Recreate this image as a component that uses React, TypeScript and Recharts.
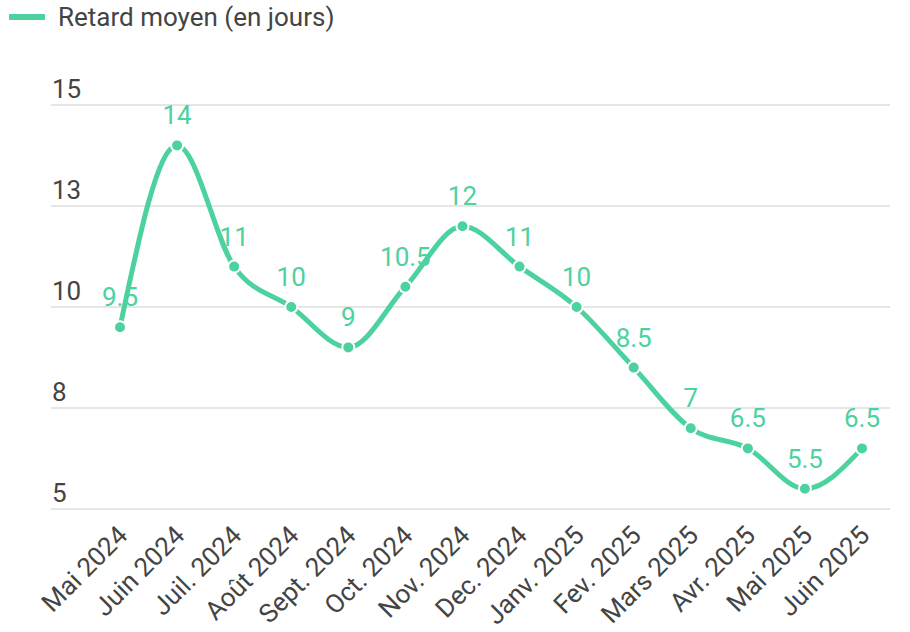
import React from "react";
import {
  LineChart,
  Line,
  XAxis,
  YAxis,
  CartesianGrid,
  LabelList,
} from "recharts";

const months = [
  "Mai 2024",
  "Juin 2024",
  "Juil. 2024",
  "Août 2024",
  "Sept. 2024",
  "Oct. 2024",
  "Nov. 2024",
  "Dec. 2024",
  "Janv. 2025",
  "Fev. 2025",
  "Mars 2025",
  "Avr. 2025",
  "Mai 2025",
  "Juin 2025",
];

const retard = [9.5, 14, 11, 10, 9, 10.5, 12, 11, 10, 8.5, 7, 6.5, 5.5, 6.5];

const yTicks = [5, 7.5, 10, 12.5, 15];

const seriesName = "Retard moyen (en jours)";

const GREEN = "#4cd29e";
const TEXT = "#444444";
const GRID = "#e6e6e6";
const FONT = "Roboto, sans-serif";
const FS = 26;

const data = months.map((m, i) => ({ month: m, value: retard[i] }));

function YTick(props: any) {
  const { y, payload } = props;
  return (
    <g>
      <line x1={51} x2={92} y1={y} y2={y} stroke={GRID} strokeWidth={2} />
      <text
        x={52}
        y={y - 7}
        fill={TEXT}
        fontSize={FS}
        fontFamily={FONT}
        textAnchor="start"
      >
        {Math.round(payload.value)}
      </text>
    </g>
  );
}

function XTick(props: any) {
  const { x, y, payload } = props;
  const tx = x + 9;
  const ty = y + 20;
  return (
    <text
      x={tx}
      y={ty}
      fill={TEXT}
      fontSize={FS}
      fontFamily={FONT}
      textAnchor="end"
      transform={`rotate(-45, ${tx}, ${ty})`}
    >
      {payload.value}
    </text>
  );
}

function ValueLabel(props: any) {
  const { x, y, value } = props;
  return (
    <text
      x={x}
      y={y - 21}
      fill={GREEN}
      fontSize={FS}
      fontFamily={FONT}
      textAnchor="middle"
    >
      {value}
    </text>
  );
}

export default function App() {
  return (
    <div
      style={{
        position: "absolute",
        left: 0,
        top: 0,
        width: 910,
        height: 632,
        background: "#fff",
        fontFamily: FONT,
      }}
    >
      <div
        style={{
          position: "absolute",
          left: 9,
          top: 2,
          display: "flex",
          alignItems: "center",
          height: 30,
          zIndex: 2,
        }}
      >
        <div style={{ width: 36, height: 6, background: GREEN, borderRadius: 1 }} />
        <span style={{ marginLeft: 13, fontSize: FS, color: TEXT }}>{seriesName}</span>
      </div>
      <LineChart
        width={910}
        height={632}
        data={data}
        margin={{ top: 105, right: 20, bottom: 23, left: 0 }}
      >
        <CartesianGrid vertical={false} stroke={GRID} strokeWidth={2} />
        <XAxis
          dataKey="month"
          interval={0}
          height={100}
          padding={{ left: 28, right: 28 }}
          axisLine={false}
          tickLine={false}
          tick={<XTick />}
        />
        <YAxis
          type="number"
          domain={[5, 15]}
          ticks={yTicks}
          width={92}
          axisLine={false}
          tickLine={false}
          tick={<YTick />}
        />
        <Line
          type="monotone"
          dataKey="value"
          name={seriesName}
          stroke={GREEN}
          strokeWidth={5}
          dot={{ r: 6, fill: GREEN, stroke: "#fff", strokeWidth: 2 }}
          activeDot={false}
          isAnimationActive={false}
        >
          <LabelList dataKey="value" content={<ValueLabel />} />
        </Line>
      </LineChart>
    </div>
  );
}
